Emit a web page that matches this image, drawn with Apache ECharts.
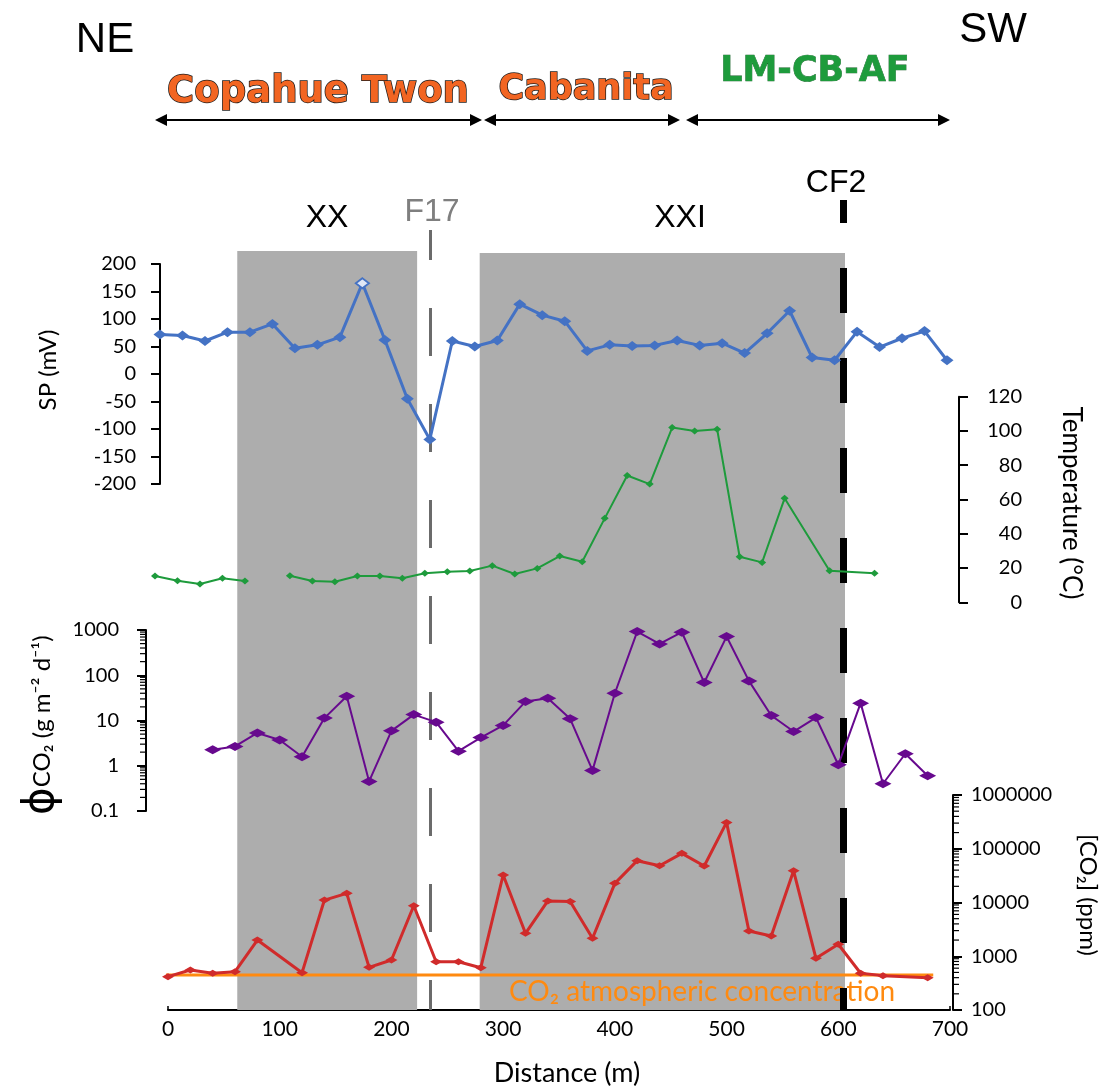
<!DOCTYPE html>
<html><head><meta charset="utf-8">
<script src="https://cdn.jsdelivr.net/npm/echarts@6/dist/echarts.min.js"></script>
<style>html,body{margin:0;padding:0;background:#fff}#c{width:1110px;height:1088px}</style>
</head><body><div id="c"></div>
<script>
// ---------------- data ----------------
const spDistance = [0,20,40,60,80,100,120,140,160,180,200,220,240,260,280,300,320,340,360,380,400,420,440,460,480,500,520,540,560,580,600,620,640,660,680,700];
const spValues = [72,70,60,76,76,91,47,53,67,165,62,-45,-119,60,50,61,127,107,96,42,53,51,52,61,52,56,38,74,115,30,25,77,49,65,78,25];

const tempDistance = [0,20,40,60,80,100,120,140,160,180,200,220,240,260,280,300,320,340,360,380,400,420,440,460,480,500,520,540,560,600,640];
const tempValues = [15.3,12.6,10.7,14,12.4,null,15.5,12.4,12,15.3,15.3,14,16.9,17.9,18.3,21.4,16.5,19.8,27,23.7,49,74,69,102,100,101,26.6,23.3,60.7,18.4,17];

const fluxDistance = [40,60,80,100,120,140,160,180,200,220,240,260,280,300,320,340,360,380,400,420,440,460,480,500,520,540,560,580,600,620,640,660,680];
const fluxValues = [2.25,2.67,5.3,3.7,1.58,11.3,34.5,0.45,5.9,13.5,9.2,2.1,4.2,7.8,26.2,31,10.9,0.79,40,922,492,893,69,716,75,12.9,5.7,11.6,1.05,24.2,0.40,1.84,0.60];

const co2Distance = [0,20,40,60,80,120,140,160,180,200,220,240,260,280,300,320,340,360,380,400,420,440,460,480,500,520,540,560,580,600,620,640,680];
const co2Values = [417,555,482,516,2005,495,11100,14800,622,851,8700,790,790,612,32500,2670,10700,10400,2160,22700,60000,48400,82200,47800,309000,2950,2380,38900,916,1670,482,436,399];

const atmCO2 = 450;
const atmRange = [-5, 685];

const xTicks = [0,100,200,300,400,500,600,700];
const spTicks = [-200,-150,-100,-50,0,50,100,150,200];
const tempTicks = [0,20,40,60,80,100,120];
const fluxTicks = [0.1,1,10,100,1000];
const co2Ticks = [100,1000,10000,100000,1000000];

const zoneBands = [[62, 223], [279, 606]];
const faultF17 = 235;
const faultCF2 = 604;

// ---------------- helpers ----------------
const pairs = (xs, ys) => xs.map((x, i) => [x, ys[i]]);
function logMinor(minV, maxV) {
  const out = [];
  for (let e = Math.round(Math.log10(minV)); e < Math.round(Math.log10(maxV)); e++)
    for (let m = 2; m <= 9; m++) out.push(+(m * Math.pow(10, e)).toPrecision(6));
  return out;
}
const fmt = v => String(+(+v).toPrecision(6));

const BLUE = '#4472c4', GREEN = '#1e9b3c', PURPLE = '#67098e', RED = '#d02b2b', ORANGE = '#ff8a10';
const numFont = 'Lato';

const chart = echarts.init(document.getElementById('c'), null, {renderer: 'canvas'});

const spData = pairs(spDistance, spValues).map((p, i) =>
  spValues[i] === 165 ? {value: p, itemStyle: {color: '#dfe6f5', borderColor: BLUE, borderWidth: 2}} : p);

function minorTickSeries(name, xIdx, yIdx, vals, xAt, shift, dir, len) {
  return {
    name, type: 'custom', xAxisIndex: xIdx, yAxisIndex: yIdx, z: 6, silent: true,
    data: vals.map(v => [xAt, v]),
    renderItem: (params, api) => {
      const p = api.coord([api.value(0), api.value(1)]);
      const x0 = p[0] + shift;
      return {type: 'line', shape: {x1: x0, y1: p[1], x2: x0 + dir * len, y2: p[1]},
              style: {stroke: '#000', lineWidth: 1.2}};
    }
  };
}

const hiddenX = (gi) => ({type: 'value', gridIndex: gi, min: 0, max: 700, show: false});
const axisLine = {show: true, onZero: false, lineStyle: {color: '#000', width: 2}};

const option = {
  animation: false,
  backgroundColor: '#fff',
  grid: [
    {left: 168, width: 782, top: 0, height: 1010},      // 0 background
    {left: 160, width: 787, top: 264, height: 220},     // 1 SP
    {left: 155, width: 787, top: 396.7, height: 205.6}, // 2 Temperature
    {left: 168, width: 782, top: 630, height: 181},     // 3 flux
    {left: 168, width: 782, top: 795, height: 215}      // 4 CO2
  ],
  xAxis: [
    hiddenX(0), hiddenX(1), hiddenX(2), hiddenX(3),
    {type: 'value', gridIndex: 4, min: 0, max: 700, interval: 100,
     axisLine: axisLine,
     axisTick: {show: true, inside: true, length: 4, lineStyle: {color: '#000', width: 1.5}},
     axisLabel: {color: '#000', fontFamily: numFont, fontSize: 21, margin: 9,
       formatter: v => xTicks.includes(v) ? String(v) : ''},
     splitLine: {show: false}}
  ],
  yAxis: [
    {type: 'value', gridIndex: 0, min: 0, max: 1010, inverse: true, show: false},
    {type: 'value', gridIndex: 1, min: -200, max: 200, interval: 50, position: 'left',
     axisLine: axisLine,
     axisTick: {show: true, length: 9, lineStyle: {color: '#000', width: 2}},
     axisLabel: {color: '#000', fontFamily: numFont, fontSize: 20, margin: 24,
       formatter: v => spTicks.includes(v) ? String(v) : ''},
     splitLine: {show: false}},
    {type: 'value', gridIndex: 2, min: 0, max: 120, interval: 20, position: 'right', offset: 17,
     axisLine: axisLine,
     axisTick: {show: true, length: 9, lineStyle: {color: '#000', width: 2}},
     axisLabel: {color: '#000', fontFamily: numFont, fontSize: 20, margin: 63, align: 'right',
       formatter: v => tempTicks.includes(v) ? String(v) : ''},
     splitLine: {show: false}},
    {type: 'log', logBase: 10, gridIndex: 3, min: 0.1, max: 1000, splitNumber: 4, position: 'left', offset: 22,
     axisLine: axisLine,
     axisTick: {show: true, length: 9, lineStyle: {color: '#000', width: 2}},
     axisLabel: {color: '#000', fontFamily: numFont, fontSize: 20, margin: 27,
       formatter: v => fluxTicks.includes(+fmt(v)) ? fmt(v) : ''},
     splitLine: {show: false}},
    {type: 'log', logBase: 10, gridIndex: 4, min: 100, max: 1000000, splitNumber: 4, position: 'right', offset: 3,
     axisLine: axisLine,
     axisTick: {show: true, length: 9, lineStyle: {color: '#000', width: 2}},
     axisLabel: {color: '#000', fontFamily: numFont, fontSize: 20, margin: 18,
       formatter: v => co2Ticks.includes(+fmt(v)) ? fmt(v) : ''},
     splitLine: {show: false}}
  ],
  series: [
    {name: 'zones', type: 'line', xAxisIndex: 0, yAxisIndex: 0, z: 1, data: [], silent: true,
     markArea: {silent: true, itemStyle: {color: '#adadad'},
       data: [
         [{coord: [zoneBands[0][0], 251]}, {coord: [zoneBands[0][1], 1010]}],
         [{coord: [zoneBands[1][0], 253]}, {coord: [zoneBands[1][1], 1010]}]
       ]}},
    {name: 'faults', type: 'line', xAxisIndex: 0, yAxisIndex: 0, z: 3, data: [], silent: true,
     markLine: {silent: true, symbol: 'none', label: {show: false},
       data: [
         [{coord: [faultF17, 230], lineStyle: {color: '#6b6b6b', width: 3, type: [48, 48], dashOffset: 18}},
          {coord: [faultF17, 1010]}],
         [{coord: [faultCF2, 200], lineStyle: {color: '#000', width: 7, type: [45, 45], dashOffset: 22}},
          {coord: [faultCF2, 1010]}]
       ]}},
    {name: 'SP', type: 'line', xAxisIndex: 1, yAxisIndex: 1, z: 5, data: spData,
     lineStyle: {color: BLUE, width: 3}, itemStyle: {color: BLUE},
     symbol: 'diamond', symbolSize: [13, 10], showAllSymbol: true},
    {name: 'Temperature', type: 'line', xAxisIndex: 2, yAxisIndex: 2, z: 5, data: pairs(tempDistance, tempValues),
     connectNulls: false, lineStyle: {color: GREEN, width: 2}, itemStyle: {color: GREEN},
     symbol: 'diamond', symbolSize: [8, 7], showAllSymbol: true},
    {name: 'flux', type: 'line', xAxisIndex: 3, yAxisIndex: 3, z: 5, data: pairs(fluxDistance, fluxValues),
     lineStyle: {color: PURPLE, width: 2}, itemStyle: {color: PURPLE},
     symbol: 'diamond', symbolSize: [17, 9], showAllSymbol: true},
    {name: 'atm', type: 'line', xAxisIndex: 4, yAxisIndex: 4, z: 4, data: [[atmRange[0], atmCO2], [atmRange[1], atmCO2]],
     lineStyle: {color: ORANGE, width: 3}, symbol: 'none', clip: false},
    {name: 'CO2', type: 'line', xAxisIndex: 4, yAxisIndex: 4, z: 5, data: pairs(co2Distance, co2Values),
     lineStyle: {color: RED, width: 3}, itemStyle: {color: RED},
     symbol: 'diamond', symbolSize: [12, 7], showAllSymbol: true},
    minorTickSeries('fluxMinor', 3, 3, logMinor(0.1, 1000), 0, -22, -1, 6),
    minorTickSeries('co2Minor', 4, 4, logMinor(100, 1000000), 700, 3, 1, 6)
  ],
  graphic: [
    {type: 'text', x: 105, y: 40, z: 10, style: {text: 'NE', fill: '#000', font: '42px "Liberation Sans"', align: 'center', verticalAlign: 'middle'}},
    {type: 'text', x: 993, y: 30, z: 10, style: {text: 'SW', fill: '#000', font: '42px "Liberation Sans"', align: 'center', verticalAlign: 'middle'}},
    {type: 'text', x: 318, y: 92, z: 10, style: {text: 'Copahue Twon', fill: '#f26522', stroke: '#1a1a1a', lineWidth: 1.5, font: 'bold 37px "DejaVu Sans"', align: 'center', verticalAlign: 'middle'}},
    {type: 'text', x: 586, y: 90, z: 10, style: {text: 'Cabanita', fill: '#f26522', stroke: '#1a1a1a', lineWidth: 1.5, font: 'bold 35px "DejaVu Sans"', align: 'center', verticalAlign: 'middle'}},
    {type: 'text', x: 815, y: 72, z: 10, style: {text: 'LM-CB-AF', fill: '#1e9b3c', stroke: '#145a25', lineWidth: 0.6, font: 'bold 35px "DejaVu Sans"', align: 'center', verticalAlign: 'middle'}},
    {type: 'text', x: 327, y: 218, z: 10, style: {text: 'XX', fill: '#000', font: '32px "Liberation Sans"', align: 'center', verticalAlign: 'middle'}},
    {type: 'text', x: 680, y: 218, z: 10, style: {text: 'XXI', fill: '#000', font: '32px "Liberation Sans"', align: 'center', verticalAlign: 'middle'}},
    {type: 'text', x: 432, y: 212, z: 10, style: {text: 'F17', fill: '#7f7f7f', font: '32px "Liberation Sans"', align: 'center', verticalAlign: 'middle'}},
    {type: 'text', x: 836, y: 183, z: 10, style: {text: 'CF2', fill: '#000', font: '32px "Liberation Sans"', align: 'center', verticalAlign: 'middle'}},
    // arrows
    {type: 'line', z: 10, shape: {x1: 160, y1: 120, x2: 477, y2: 120}, style: {stroke: '#000', lineWidth: 2}},
    {type: 'polygon', z: 10, shape: {points: [[155,120],[167,114],[167,126]]}, style: {fill: '#000'}},
    {type: 'polygon', z: 10, shape: {points: [[482,120],[470,114],[470,126]]}, style: {fill: '#000'}},
    {type: 'line', z: 10, shape: {x1: 489, y1: 120, x2: 675, y2: 120}, style: {stroke: '#000', lineWidth: 2}},
    {type: 'polygon', z: 10, shape: {points: [[484,120],[496,114],[496,126]]}, style: {fill: '#000'}},
    {type: 'polygon', z: 10, shape: {points: [[680,120],[668,114],[668,126]]}, style: {fill: '#000'}},
    {type: 'line', z: 10, shape: {x1: 691, y1: 120, x2: 945, y2: 120}, style: {stroke: '#000', lineWidth: 2}},
    {type: 'polygon', z: 10, shape: {points: [[686,120],[698,114],[698,126]]}, style: {fill: '#000'}},
    {type: 'polygon', z: 10, shape: {points: [[950,120],[938,114],[938,126]]}, style: {fill: '#000'}},
    // axis titles
    {type: 'text', x: 48, y: 370, rotation: Math.PI / 2, z: 10, style: {text: 'SP (mV)', fill: '#000', font: '24px Lato', align: 'center', verticalAlign: 'middle'}},
    {type: 'text', x: 1071, y: 503, rotation: -Math.PI / 2, z: 10, style: {text: 'Temperature (°C)', fill: '#000', font: '26px Lato', align: 'center', verticalAlign: 'middle'}},
    {type: 'text', x: 42, y: 815, rotation: Math.PI / 2, z: 10, style: {text: '{p|ϕ}{t|CO₂ (g m⁻² d⁻¹)}', fill: '#000', align: 'left', verticalAlign: 'middle',
      rich: {p: {fontSize: 42, fontFamily: 'DejaVu Sans', fill: '#000'}, t: {fontSize: 24, fontFamily: 'Lato', fill: '#000'}}}},
    {type: 'text', x: 1088, y: 895, rotation: -Math.PI / 2, z: 10, style: {text: '[CO₂] (ppm)', fill: '#000', font: '24px Lato', align: 'center', verticalAlign: 'middle'}},
    {type: 'text', x: 567, y: 1073, z: 10, style: {text: 'Distance (m)', fill: '#000', font: '27px Lato', align: 'center', verticalAlign: 'middle'}},
    {type: 'text', x: 702, y: 992, z: 2, style: {text: 'CO₂ atmospheric concentration', fill: ORANGE, font: '28px Lato', align: 'center', verticalAlign: 'middle'}}
  ]
};
chart.setOption(option);
</script>
</body></html>
